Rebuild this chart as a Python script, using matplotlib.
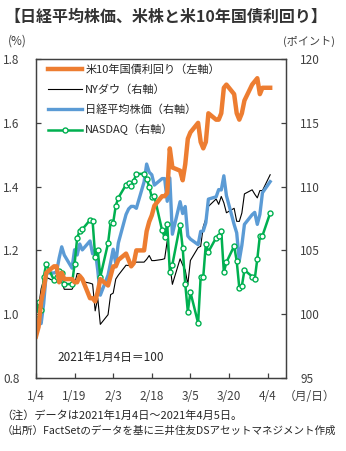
import numpy as np
import pandas as pd
import matplotlib
matplotlib.use("Agg")
import matplotlib.pyplot as plt

plt.rcParams['font.family'] = ['Noto Sans CJK JP', 'DejaVu Sans']

# 営業日（平日、休場日は前日値で埋めている）
dates = pd.bdate_range("2021-01-04", "2021-04-05")

# 米10年国債利回り（%）
us10y = [0.93, 0.96, 1.04, 1.08, 1.13, 1.15, 1.15, 1.10, 1.13, 1.11,
         1.11, 1.10, 1.10, 1.12, 1.11, 1.05, 1.05, 1.04, 1.07, 1.11,
         1.09, 1.12, 1.15, 1.15, 1.17, 1.19, 1.17, 1.15, 1.16, 1.20,
         1.20, 1.26, 1.29, 1.31, 1.34, 1.37, 1.37, 1.38, 1.52, 1.46,
         1.45, 1.42, 1.47, 1.55, 1.57, 1.60, 1.54, 1.52, 1.54, 1.63,
         1.61, 1.61, 1.63, 1.71, 1.72, 1.69, 1.63, 1.61, 1.63, 1.67,
         1.72, 1.73, 1.74, 1.69, 1.71, 1.71]

# NYダウ（2021年1月4日=100）
dow = [100.0, 100.55, 102.00, 102.70, 102.89, 102.60, 102.79, 102.77, 102.54, 101.95,
       101.95, 102.34, 103.19, 103.15, 102.56, 102.43, 102.36, 100.26, 101.26, 99.20,
       99.96, 101.53, 101.65, 102.75, 103.06, 103.84, 103.81, 104.02, 103.99, 104.08,
       104.08, 104.30, 104.60, 104.20, 104.20, 104.29, 104.35, 105.75, 103.90, 102.34,
       104.34, 103.86, 103.46, 102.32, 104.21, 105.22, 105.32, 106.86, 107.48, 108.45,
       109.03, 108.61, 109.23, 108.73, 107.95, 108.30, 107.28, 107.27, 107.93, 109.43,
       109.75, 109.41, 109.12, 109.69, 109.69, 110.93]

# 日経平均株価（2021年1月4日=100）
nikkei = [100.0, 99.63, 99.26, 100.85, 103.23, 103.23, 103.32, 104.40, 105.28, 104.63,
          103.61, 105.05, 104.64, 105.50, 105.04, 105.74, 104.73, 105.05, 103.45, 101.49,
          103.06, 104.05, 105.09, 103.98, 105.58, 107.82, 108.25, 108.45, 108.45, 108.30,
          110.37, 111.77, 111.13, 110.93, 110.12, 110.63, 110.63, 108.85, 110.68, 106.27,
          108.82, 107.89, 108.44, 106.13, 105.89, 105.45, 106.49, 106.52, 107.17, 109.02,
          109.20, 109.77, 109.74, 110.85, 109.30, 107.03, 106.37, 104.21, 105.40, 107.04,
          107.80, 107.98, 107.04, 107.82, 109.52, 110.39]

# NASDAQ（2021年1月4日=100）
nasdaq = [100.0, 100.95, 100.33, 102.90, 103.96, 102.66, 102.94, 103.39, 103.26, 102.36,
          102.36, 103.93, 105.97, 106.55, 106.65, 107.38, 107.30, 104.51, 105.03, 102.93,
          105.55, 107.20, 107.18, 108.50, 109.12, 110.15, 110.31, 110.03, 110.45, 111.00,
          111.00, 110.62, 109.98, 109.19, 109.26, 106.57, 106.04, 107.08, 103.31, 103.89,
          107.01, 105.20, 102.36, 100.20, 101.74, 99.30, 102.95, 102.92, 105.51, 104.89,
          105.99, 106.09, 106.51, 103.29, 104.07, 105.34, 104.16, 102.07, 102.20, 103.46,
          102.95, 102.75, 104.32, 106.15, 106.15, 107.93]

tick_dates = ["2021-01-04", "2021-01-19", "2021-02-03", "2021-02-18",
              "2021-03-05", "2021-03-20", "2021-04-04"]
tick_labels = ["1/4", "1/19", "2/3", "2/18", "3/5", "3/20", "4/4"]

ORANGE = "#ED7D31"
BLUE = "#5B9BD5"
GREEN = "#00B050"
TXT = "#404040"

fig = plt.figure(figsize=(3.46, 4.51), dpi=100)
ax = fig.add_axes([0.104, 0.162, 0.723, 0.707])
ax2 = ax.twinx()

# 右軸の系列
l_dow, = ax2.plot(dates, dow, color="black", lw=0.8, label="NYダウ（右軸）")
l_nk, = ax2.plot(dates, nikkei, color=BLUE, lw=2.4, label="日経平均株価（右軸）")
l_nq, = ax2.plot(dates, nasdaq, color=GREEN, lw=1.8, marker="o", ms=3.6,
                 mfc="white", mec=GREEN, mew=1.0, label="NASDAQ（右軸）")
# 左軸の系列（前面に描く）
l_us, = ax.plot(dates, us10y, color=ORANGE, lw=3.2, solid_joinstyle="round",
                label="米10年国債利回り（左軸）")
ax.set_zorder(ax2.get_zorder() + 1)
ax.patch.set_visible(False)

ax.set_ylim(0.8, 1.8)
ax.set_yticks([0.8, 1.0, 1.2, 1.4, 1.6, 1.8])
ax.set_yticklabels(["0.8", "1.0", "1.2", "1.4", "1.6", "1.8"])
ax2.set_ylim(95, 120)
ax2.set_yticks([95, 100, 105, 110, 115, 120])

ax.set_xlim(pd.Timestamp("2021-01-04"), pd.Timestamp("2021-04-11 05:00"))
ax.set_xticks([pd.Timestamp(d) for d in tick_dates])
ax.set_xticklabels(tick_labels)

for a in (ax, ax2):
    for s in a.spines.values():
        s.set_color("#404040")
        s.set_linewidth(0.9)
    a.tick_params(direction="in", length=3.5, width=0.9, color="#404040",
                  labelsize=8.5, labelcolor=TXT)
ax.tick_params(axis="y", pad=12)
ax.tick_params(axis="x", pad=9)
ax2.tick_params(axis="y", pad=10)

leg = ax.legend(handles=[l_us, l_dow, l_nk, l_nq], loc="upper left",
                bbox_to_anchor=(0.05, 0.985), frameon=False, fontsize=8,
                handlelength=3.0, handletextpad=0.3, labelspacing=0.85,
                borderpad=0, borderaxespad=0)
for t in leg.get_texts():
    t.set_color("#262626")

ax.text(0.30, 0.063, "2021年1月4日＝100", transform=ax.transAxes,
        ha="center", va="center", fontsize=8.5, color="#262626")

fig.text(0.012, 0.962, "【日経平均株価、米株と米10年国債利回り】",
         ha="left", va="center", fontsize=11.5, fontweight="bold", color="#333333")
fig.text(0.05, 0.909, "(%)", ha="center", va="center", fontsize=8.5, color=TXT)
fig.text(0.892, 0.909, "(ポイント)", ha="center", va="center", fontsize=8, color=TXT)
fig.text(0.895, 0.120, "（月/日）", ha="center", va="center", fontsize=8.5, color=TXT)
fig.text(0.005, 0.078, "（注）データは2021年1月4日～2021年4月5日。",
         ha="left", va="center", fontsize=8, color="#262626")
fig.text(0.005, 0.044, "（出所）FactSetのデータを基に三井住友DSアセットマネジメント作成",
         ha="left", va="center", fontsize=7.6, color="#262626")

fig.savefig("out.png", dpi=100)
